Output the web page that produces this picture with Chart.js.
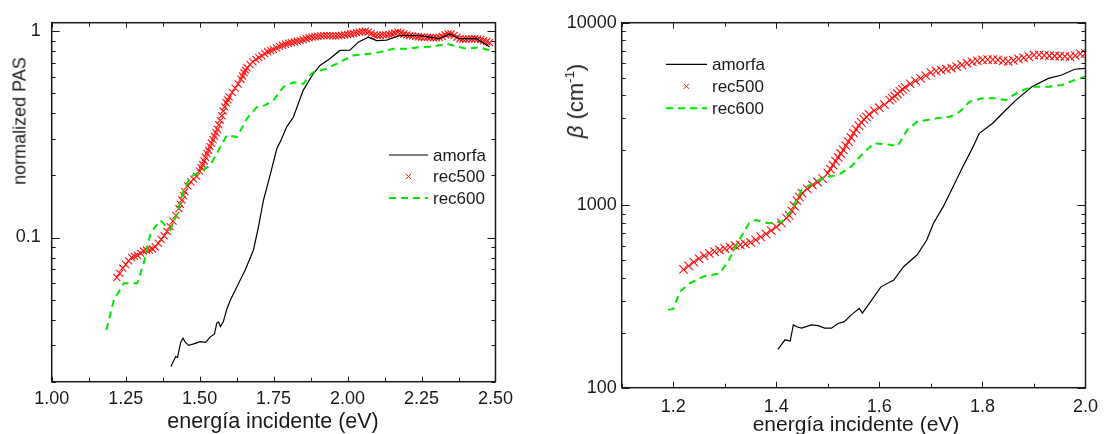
<!DOCTYPE html>
<html>
<head>
<meta charset="utf-8">
<script src="https://cdn.jsdelivr.net/npm/chart.js@4/dist/chart.umd.min.js"></script>
<style>
  body { margin: 0; background: #fff; }
  #wrap { position: relative; width: 1107px; height: 434px; overflow: hidden; font-family: "Liberation Sans", Arial, Helvetica, sans-serif; color: #1a1a1a; }
  .box { position: absolute; top: 0; }
  .lbl { position: absolute; white-space: nowrap; transform: translate(-50%, -50%); }
  .rot { transform: translate(-50%, -50%) rotate(-90deg); }
  sup { font-size: 60%; vertical-align: 0.7em; line-height: 0; }
</style>
</head>
<body>
<div id="wrap">
  <div class="box" style="left:0;width:520px"><canvas id="pas" width="520" height="434"></canvas></div>
  <div class="box" style="left:530px;width:577px"><canvas id="beta" width="577" height="434"></canvas></div>
  <div class="lbl rot" style="left:20px;top:121px;font-size:18px">normalized PAS</div>
  <div class="lbl" style="left:273px;top:421px;font-size:21.5px">energía incidente (eV)</div>
  <div class="lbl rot" style="left:576px;top:101px;font-size:22px"><i>β</i> (cm<sup>-1</sup>)</div>
  <div class="lbl" style="left:856px;top:424px;font-size:21px">energía incidente (eV)</div>
</div>
<script>
// ---------- panel izquierdo: PAS normalizado ----------
const xTicksL = [1.00, 1.25, 1.50, 1.75, 2.00, 2.25, 2.50];
const xMinorL = [1.125, 1.375, 1.625, 1.875, 2.125, 2.375];
const yTicksL = [0.1, 1];
const yMinorL = [0.02, 0.03, 0.04, 0.05, 0.06, 0.07, 0.08, 0.09, 0.2, 0.3, 0.4, 0.5, 0.6, 0.7, 0.8, 0.9];

const eAmL = [1.403, 1.419, 1.425, 1.436, 1.444, 1.452, 1.463, 1.48, 1.502, 1.52, 1.536, 1.55, 1.558, 1.564, 1.57, 1.58,
  1.592, 1.604, 1.626, 1.654, 1.682, 1.699, 1.716, 1.738, 1.761, 1.772, 1.794, 1.817, 1.85, 1.884, 1.907, 1.94,
  1.974, 2.008, 2.036, 2.07, 2.098, 2.132, 2.176, 2.244, 2.311, 2.345, 2.378, 2.435, 2.48];
const amL = [0.0237, 0.0265, 0.0262, 0.031, 0.0325, 0.031, 0.030, 0.0305, 0.0313, 0.031, 0.033, 0.034, 0.0385, 0.039, 0.037, 0.039,
  0.045, 0.0498, 0.0577, 0.0696, 0.087, 0.113, 0.152, 0.20, 0.27, 0.29, 0.343, 0.384, 0.517, 0.622, 0.683, 0.735,
  0.807, 0.81, 0.885, 0.935, 0.901, 0.905, 0.953, 0.953, 0.92, 0.97, 0.92, 0.92, 0.84];

const e500L = [1.22, 1.23, 1.24, 1.25, 1.26, 1.27, 1.28, 1.29, 1.30, 1.31,
  1.32, 1.33, 1.34, 1.35, 1.36, 1.37, 1.38, 1.39, 1.40, 1.41,
  1.42, 1.43, 1.435, 1.44, 1.445, 1.45, 1.46, 1.47, 1.48, 1.49,
  1.50, 1.505, 1.51, 1.515, 1.52, 1.525, 1.53, 1.535, 1.54, 1.545,
  1.55, 1.555, 1.56, 1.565, 1.57, 1.575, 1.58, 1.585, 1.59, 1.595,
  1.60, 1.61, 1.62, 1.63, 1.64, 1.645, 1.65, 1.655, 1.66, 1.67,
  1.68, 1.69, 1.70, 1.71,
  1.72, 1.73, 1.74, 1.75, 1.76, 1.77, 1.78, 1.79, 1.80, 1.81,
  1.82, 1.83, 1.84, 1.85, 1.86, 1.87, 1.88, 1.89, 1.90, 1.91,
  1.92, 1.93, 1.94, 1.95, 1.96, 1.97, 1.98, 1.99, 2.00, 2.01,
  2.02, 2.03, 2.04, 2.05, 2.06, 2.07, 2.08, 2.09, 2.10, 2.11,
  2.12, 2.13, 2.14, 2.15, 2.16, 2.17, 2.18, 2.19, 2.20, 2.21,
  2.22, 2.23, 2.24, 2.25, 2.26, 2.27, 2.28, 2.29, 2.30, 2.31,
  2.32, 2.33, 2.34, 2.35, 2.36, 2.37, 2.38, 2.39, 2.40, 2.41,
  2.42, 2.43, 2.44, 2.45, 2.46, 2.47, 2.48];
const r500L = [0.064, 0.067, 0.071, 0.074, 0.077, 0.080, 0.081, 0.082, 0.084, 0.086,
  0.087, 0.087, 0.088, 0.090, 0.094, 0.098, 0.102, 0.107, 0.113, 0.120,
  0.128, 0.138, 0.145, 0.152, 0.160, 0.167, 0.178, 0.186, 0.192, 0.198,
  0.21, 0.218, 0.226, 0.235, 0.245, 0.255, 0.265, 0.276, 0.287, 0.298,
  0.31, 0.322, 0.335, 0.352, 0.37, 0.39, 0.41, 0.43, 0.45, 0.465,
  0.48, 0.505, 0.53, 0.555, 0.585, 0.607, 0.63, 0.648, 0.665, 0.69,
  0.71, 0.73, 0.745, 0.76,
  0.78, 0.795, 0.805, 0.815, 0.83, 0.845, 0.855, 0.865, 0.875, 0.88,
  0.888, 0.895, 0.90, 0.91, 0.92, 0.93, 0.937, 0.94, 0.945, 0.95,
  0.952, 0.953, 0.952, 0.95, 0.95, 0.952, 0.955, 0.96, 0.965, 0.97,
  0.975, 0.985, 0.99, 0.995, 1.0, 0.99, 0.975, 0.96, 0.955, 0.955,
  0.96, 0.96, 0.965, 0.97, 0.98, 0.99, 0.985, 0.97, 0.96, 0.953,
  0.95, 0.945, 0.94, 0.937, 0.935, 0.935, 0.933, 0.93, 0.93, 0.935,
  0.945, 0.96, 0.97, 0.97, 0.955, 0.935, 0.92, 0.915, 0.915, 0.918,
  0.92, 0.92, 0.915, 0.91, 0.90, 0.89, 0.88];

const e600L = [1.185, 1.21, 1.244, 1.289, 1.311, 1.334, 1.367, 1.401, 1.424, 1.446, 1.469, 1.502, 1.536, 1.57, 1.592,
  1.626, 1.66, 1.693, 1.72, 1.749, 1.783, 1.817, 1.85, 1.884, 1.929, 1.974, 2.019, 2.075, 2.109, 2.155, 2.199,
  2.244, 2.289, 2.334, 2.402, 2.446, 2.48];
const r600L = [0.0356, 0.0498, 0.06, 0.06, 0.075, 0.105, 0.121, 0.109, 0.131, 0.17, 0.197, 0.208, 0.224, 0.275, 0.313,
  0.307, 0.377, 0.429, 0.437, 0.462, 0.536, 0.566, 0.556, 0.634, 0.658, 0.709, 0.763, 0.778, 0.792, 0.822, 0.822,
  0.837, 0.843, 0.869, 0.822, 0.837, 0.807];

// ---------- panel derecho: beta (cm-1) ----------
const xTicksR = [1.2, 1.4, 1.6, 1.8, 2.0];
const xMinorR = [1.1, 1.3, 1.5, 1.7, 1.9];
const yTicksR = [100, 1000, 10000];
const yMinorR = [200, 300, 400, 500, 600, 700, 800, 900, 2000, 3000, 4000, 5000, 6000, 7000, 8000, 9000];

const eAmR = [1.403, 1.417, 1.427, 1.433, 1.441, 1.449, 1.468, 1.481, 1.494, 1.507, 1.52, 1.532, 1.545, 1.561, 1.567,
  1.583, 1.603, 1.628, 1.647, 1.673, 1.692, 1.705, 1.724, 1.743, 1.762, 1.782, 1.794, 1.82, 1.839, 1.865, 1.896,
  1.928, 1.954, 1.979, 1.999];
const amR = [162, 183, 180, 221, 215, 212, 221, 219, 212, 212, 225, 230, 250, 272, 256,
  296, 357, 389, 460, 533, 644, 796, 982, 1263, 1626, 2094, 2478, 2812, 3189, 3767, 4457,
  4955, 5168, 5559, 5623];

const e500R = [1.22, 1.23, 1.24, 1.25, 1.26, 1.27, 1.28, 1.29, 1.30, 1.31,
  1.32, 1.33, 1.34, 1.35, 1.36, 1.37, 1.38, 1.39, 1.40, 1.41,
  1.42, 1.425, 1.43, 1.435, 1.44, 1.445, 1.45, 1.46, 1.47, 1.48,
  1.49, 1.50, 1.505, 1.51, 1.515, 1.52, 1.525, 1.53, 1.535, 1.54,
  1.545, 1.55, 1.555, 1.56, 1.565, 1.57, 1.575, 1.58, 1.59, 1.60,
  1.61, 1.62, 1.625, 1.63, 1.635, 1.64, 1.645, 1.65, 1.66, 1.67,
  1.68, 1.69, 1.70, 1.71,
  1.72, 1.73, 1.74, 1.75, 1.76, 1.77, 1.78, 1.79, 1.80, 1.81,
  1.82, 1.83, 1.84, 1.85, 1.86, 1.87, 1.88, 1.89, 1.90, 1.91,
  1.92, 1.93, 1.94, 1.95, 1.96, 1.97, 1.98, 1.99, 2.00];
const r500R = [445, 465, 488, 510, 528, 545, 556, 568, 579, 590,
  600, 607, 613, 625, 645, 670, 697, 725, 760, 800,
  850, 880, 930, 990, 1060, 1110, 1165, 1230, 1290, 1340,
  1400, 1500, 1575, 1660, 1745, 1830, 1920, 2010, 2120, 2230,
  2350, 2480, 2600, 2730, 2840, 2950, 3050, 3150, 3300, 3420,
  3560, 3760, 3860, 3960, 4080, 4200, 4310, 4420, 4620, 4800,
  4950, 5130, 5320, 5430,
  5500, 5570, 5640, 5740, 5880, 6000, 6100, 6180, 6250, 6280,
  6270, 6250, 6180, 6140, 6220, 6330, 6420, 6520, 6640, 6660,
  6620, 6590, 6570, 6550, 6530, 6520, 6600, 6750, 6800];

const e600R = [1.19, 1.2, 1.213, 1.232, 1.258, 1.29, 1.308, 1.328, 1.347, 1.36, 1.385, 1.411, 1.43, 1.449, 1.475,
  1.50, 1.52, 1.545, 1.571, 1.59, 1.622, 1.635, 1.654, 1.673, 1.711, 1.737, 1.756, 1.775, 1.80, 1.826, 1.845,
  1.871, 1.896, 1.928, 1.954, 1.979, 1.999];
const r600R = [267, 270, 336, 373, 406, 423, 501, 644, 796, 830, 796, 813, 941, 1211, 1345,
  1432, 1462, 1626, 1963, 2183, 2144, 2100, 2582, 2868, 2992, 3055, 3253, 3690, 3853, 3853, 3767,
  4188, 4457, 4457, 4560, 4853, 5058];

const FONT = '"Liberation Sans", Arial, Helvetica, sans-serif';
const INK = '#1a1a1a';

function pts(xs, ys) {
  return xs.map((x, i) => ({ x: x, y: ys[i] }));
}

function makeDatasets(eAm, am, e500, r500, e600, r600, markR) {
  return [
    { label: 'amorfa', data: pts(eAm, am), showLine: true, borderColor: '#000', borderWidth: 1.2,
      pointRadius: 0, order: 2 },
    { label: 'rec500', data: pts(e500, r500), showLine: false, pointStyle: 'crossRot', pointRadius: markR,
      pointBorderWidth: 1.1, borderColor: '#ff1010', backgroundColor: '#ff1010', order: 3 },
    { label: 'rec600', data: pts(e600, r600), showLine: true, borderColor: '#00e600', borderWidth: 2,
      borderDash: [7, 5], pointRadius: 0, order: 1 }
  ];
}

// marco con marcas hacia dentro en los cuatro lados
const frameTicks = {
  id: 'frameTicks',
  afterDatasetsDraw(chart, args, o) {
    const { ctx, chartArea: a, scales: { x, y } } = chart;
    ctx.save();
    ctx.strokeStyle = INK;
    ctx.lineWidth = 1;
    ctx.beginPath();
    const xs = (vals, len) => vals.forEach(v => {
      const p = Math.round(x.getPixelForValue(v)) + 0.5;
      ctx.moveTo(p, a.bottom); ctx.lineTo(p, a.bottom - len);
      ctx.moveTo(p, a.top); ctx.lineTo(p, a.top + len);
    });
    const ys = (vals, len) => vals.forEach(v => {
      const p = Math.round(y.getPixelForValue(v)) + 0.5;
      ctx.moveTo(a.left, p); ctx.lineTo(a.left + len, p);
      ctx.moveTo(a.right, p); ctx.lineTo(a.right - len, p);
    });
    xs(o.xMajor, o.xMajorLen); xs(o.xMinor, 4);
    ys(o.yMajor, 8); ys(o.yMinor, 4);
    ctx.stroke();
    ctx.lineWidth = 1.5;
    ctx.strokeRect(a.left, a.top, a.width, a.height);
    ctx.restore();
  }
};

// leyenda dentro del área de trazado
const inLegend = {
  id: 'inLegend',
  afterDraw(chart, args, o) {
    const ctx = chart.ctx;
    ctx.save();
    ctx.font = '17px ' + FONT;
    ctx.textBaseline = 'middle';
    chart.data.datasets.forEach((ds, i) => {
      const yy = o.y + i * o.row;
      ctx.strokeStyle = ds.borderColor;
      if (ds.showLine) {
        ctx.lineWidth = ds.borderWidth;
        ctx.setLineDash(ds.borderDash || []);
        ctx.beginPath();
        ctx.moveTo(o.x, yy); ctx.lineTo(o.x + o.len, yy);
        ctx.stroke();
        ctx.setLineDash([]);
      } else {
        const cx = o.x + o.len / 2, d = 2.5;
        ctx.lineWidth = 1;
        ctx.beginPath();
        ctx.moveTo(cx - d, yy - d); ctx.lineTo(cx + d, yy + d);
        ctx.moveTo(cx - d, yy + d); ctx.lineTo(cx + d, yy - d);
        ctx.stroke();
      }
      ctx.fillStyle = INK;
      ctx.fillText(ds.label, o.x + o.len + o.gap, yy + 1);
    });
    ctx.restore();
  }
};

function makeChart(id, cfg) {
  return new Chart(document.getElementById(id), {
    type: 'scatter',
    data: { datasets: cfg.datasets },
    options: {
      responsive: false,
      animation: false,
      devicePixelRatio: 1,
      layout: { padding: cfg.padding },
      elements: { line: { tension: 0 } },
      scales: {
        x: {
          type: 'linear', min: cfg.xMin, max: cfg.xMax,
          grid: { display: false, drawTicks: false }, border: { display: false },
          afterBuildTicks: s => { s.ticks = cfg.xTicks.map(v => ({ value: v })); },
          afterFit: s => { s.height = cfg.xHeight; },
          ticks: { autoSkip: false, maxRotation: 0, padding: cfg.xPad, color: INK,
            font: { family: FONT, size: 18 }, callback: v => v.toFixed(cfg.xDec) }
        },
        y: {
          type: 'logarithmic', min: cfg.yMin, max: cfg.yMax,
          grid: { display: false, drawTicks: false }, border: { display: false },
          afterBuildTicks: s => { s.ticks = cfg.yTicks.map(v => ({ value: v })); },
          afterFit: s => { s.width = cfg.yWidth; },
          ticks: { autoSkip: false, padding: cfg.yPad, color: INK,
            font: { family: FONT, size: 18 }, callback: v => String(v) }
        }
      },
      plugins: {
        legend: { display: false },
        tooltip: { enabled: false },
        frameTicks: cfg.frame,
        inLegend: cfg.legend
      }
    },
    plugins: [frameTicks, inLegend]
  });
}

makeChart('pas', {
  datasets: makeDatasets(eAmL, amL, e500L, r500L, e600L, r600L, 5),
  padding: { left: 0, top: 22.7, right: 24, bottom: 0 },
  xMin: 1.0, xMax: 2.5, xTicks: xTicksL, xDec: 2, xHeight: 52.3, xPad: 7,
  yMin: 0.02, yMax: 1.1, yTicks: yTicksL, yWidth: 51.7, yPad: 11,
  frame: { xMajor: xTicksL, xMinor: xMinorL, xMajorLen: 5, yMajor: yTicksL, yMinor: yMinorL },
  legend: { x: 389, y: 155, len: 39, gap: 5, row: 21.5 }
});

makeChart('beta', {
  datasets: makeDatasets(eAmR, amR, e500R, r500R, e600R, r600R, 6),
  padding: { left: 0, top: 22.7, right: 16.3, bottom: 0 },
  xMin: 1.1, xMax: 2.0, xTicks: xTicksR, xDec: 1, xHeight: 46.3, xPad: 9,
  yMin: 100, yMax: 10000, yTicks: yTicksR, yWidth: 91.7, yPad: 5,
  frame: { xMajor: xTicksR, xMinor: xMinorR, xMajorLen: 6, yMajor: yTicksR, yMinor: yMinorR },
  legend: { x: 136, y: 64.3, len: 41, gap: 5, row: 22 }
});
</script>
</body>
</html>
